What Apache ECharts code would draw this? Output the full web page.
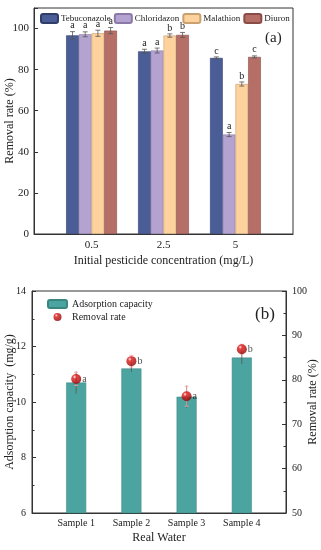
<!DOCTYPE html>
<html><head><meta charset="utf-8">
<script src="https://cdn.jsdelivr.net/npm/echarts@6/dist/echarts.min.js"></script>
<style>html,body{margin:0;padding:0;background:#fff;} #c{width:321px;height:550px;}</style>
</head><body><div id="c"></div>
<script>
// ---------- Panel (a) data ----------
const concentrations = ['0.5', '2.5', '5'];
const pesticides = ['Tebuconazole', 'Chloridazon', 'Malathion', 'Diuron'];
const tebuconazole = [96.7, 88.9, 85.7];
const chloridazon = [97.2, 89.3, 48.4];
const malathion = [97.7, 96.6, 73.0];
const diuron = [99.0, 96.9, 86.2];
const tebuconazoleErr = [1.8, 1.0, 0.5];
const chloridazonErr = [1.2, 1.2, 1.0];
const malathionErr = [1.5, 0.8, 1.0];
const diuronErr = [1.5, 1.2, 0.5];
const tebuconazoleLetters = ['a', 'a', 'c'];
const chloridazonLetters = ['a', 'a', 'a'];
const malathionLetters = ['a', 'b', 'b'];
const diuronLetters = ['a', 'b', 'c'];

// ---------- Panel (b) data ----------
const samples = ['Sample 1', 'Sample 2', 'Sample 3', 'Sample 4'];
const adsorption = [10.70, 11.21, 10.19, 11.60];
const adsorptionErr = [0.4, 0.13, 0.4, 0.23];
const removal = [80.2, 84.2, 76.3, 86.9];
const removalErr = [1.5, 1.3, 2.25, 1.1];
const removalLetters = ['a', 'b', 'a', 'b'];

// ---------- styling ----------
const SERIF = '"Liberation Serif", "DejaVu Serif", serif';
const AXIS = '#333';
const colorsA = ['#4a5d97', '#b4a2d0', '#fdd29c', '#b66f67'];
const bordersA = ['#2f3d68', '#8a79a6', '#c9a070', '#8a4c46'];
const TEAL = '#4ca4a0';
const barWA = 12.7;

const valuesA = [tebuconazole, chloridazon, malathion, diuron];
const errsA = [tebuconazoleErr, chloridazonErr, malathionErr, diuronErr];
const lettersA = [tebuconazoleLetters, chloridazonLetters, malathionLetters, diuronLetters];

function catLabel(list) {
  return function (v) {
    const i = Math.round(v);
    if (Math.abs(v - i) < 1e-6 && i >= 1 && i <= list.length) return list[i - 1];
    return '';
  };
}

function errRender(offset, letters, color, cap, lw) {
  return function (params, api) {
    const x = api.value(0), y = api.value(1), e = api.value(2);
    const hi = api.coord([x, y + e]);
    const lo = api.coord([x, y - e]);
    const cx = hi[0] + offset;
    const ch = [
      { type: 'line', shape: { x1: cx, y1: hi[1], x2: cx, y2: lo[1] }, style: { stroke: color, lineWidth: lw } },
      { type: 'line', shape: { x1: cx - cap, y1: hi[1], x2: cx + cap, y2: hi[1] }, style: { stroke: color, lineWidth: lw } },
      { type: 'line', shape: { x1: cx - cap, y1: lo[1], x2: cx + cap, y2: lo[1] }, style: { stroke: color, lineWidth: lw } }
    ];
    if (letters) {
      ch.push({ type: 'text', style: { text: letters[params.dataIndex], x: cx, y: hi[1] - 1,
        align: 'center', verticalAlign: 'bottom', textAlign: 'center', textVerticalAlign: 'bottom',
        font: '10px ' + SERIF, fill: '#222' } });
    }
    return { type: 'group', children: ch };
  };
}

const series = [];
pesticides.forEach(function (name, k) {
  series.push({
    name: name, type: 'bar', xAxisIndex: 0, yAxisIndex: 0,
    barWidth: barWA, barGap: '0%',
    itemStyle: { color: colorsA[k], borderColor: bordersA[k], borderWidth: 0.6 },
    data: valuesA[k].map(function (v, i) { return [i + 1, v]; })
  });
});
pesticides.forEach(function (name, k) {
  series.push({
    type: 'custom', xAxisIndex: 0, yAxisIndex: 0, z: 5,
    renderItem: errRender((k - 1.5) * barWA, lettersA[k], '#555', 2.5, 0.8),
    encode: { x: 0, y: 1 },
    data: valuesA[k].map(function (v, i) { return [i + 1, v, errsA[k][i]]; })
  });
});

// panel b
series.push({
  name: 'Adsorption capacity', type: 'bar', xAxisIndex: 1, yAxisIndex: 1,
  barWidth: 20, itemStyle: { color: TEAL, borderColor: '#3a8580', borderWidth: 0.5 },
  data: adsorption.map(function (v, i) { return [i + 1, v]; })
});
series.push({
  type: 'custom', xAxisIndex: 1, yAxisIndex: 1, z: 5,
  renderItem: errRender(0, null, '#555', 0, 0.8),
  encode: { x: 0, y: 1 },
  data: adsorption.map(function (v, i) { return [i + 1, v, adsorptionErr[i]]; })
});
series.push({
  type: 'custom', xAxisIndex: 1, yAxisIndex: 2, z: 6,
  renderItem: errRender(0, null, '#f2a3a3', 2, 0.8),
  encode: { x: 0, y: 1 },
  data: removal.map(function (v, i) { return [i + 1, v, removalErr[i]]; })
});
const dotGrad = new echarts.graphic.RadialGradient(0.35, 0.3, 0.75, [
  { offset: 0, color: '#ffe6e6' }, { offset: 0.25, color: '#e01818' }, { offset: 1, color: '#8a0000' }
]);
series.push({
  name: 'Removal rate', type: 'scatter', xAxisIndex: 1, yAxisIndex: 2, z: 8,
  symbol: 'circle', symbolSize: 10,
  itemStyle: { color: dotGrad },
  label: { show: true, position: 'right', distance: 1, fontFamily: SERIF, fontSize: 10, color: '#222',
    formatter: function (p) { return removalLetters[p.dataIndex]; } },
  data: removal.map(function (v, i) { return [i + 1, v]; })
});

const chart = echarts.init(document.getElementById('c'), null, { renderer: 'canvas' });
chart.setOption({
  animation: false,
  backgroundColor: '#fff',
  textStyle: { fontFamily: SERIF },
  title: [
    { text: '(a)', left: 265, top: 31, padding: 0, textStyle: { fontFamily: SERIF, fontSize: 15, fontWeight: 'normal', color: '#222' } },
    { text: '(b)', left: 255, top: 306, padding: 0, textStyle: { fontFamily: SERIF, fontSize: 17, fontWeight: 'normal', color: '#222' } }
  ],
  legend: [
    { data: pesticides, left: 40, top: 13, padding: 0, itemWidth: 17, itemHeight: 9, itemGap: 3,
      textStyle: { fontFamily: SERIF, fontSize: 9, color: '#222', padding: [0, 0, 0, -2] } },
    { data: ['Adsorption capacity', 'Removal rate'], orient: 'vertical', left: 47, top: 299, padding: 0,
      itemWidth: 19, itemHeight: 8, itemGap: 3,
      textStyle: { fontFamily: SERIF, fontSize: 10, color: '#222' } }
  ],
  grid: [
    { left: 34, right: 28, top: 8, bottom: 316, show: true, borderColor: AXIS, borderWidth: 1, outerBoundsMode: 'none', containLabel: false },
    { left: 32, right: 35, top: 291, bottom: 37, show: true, borderColor: AXIS, borderWidth: 1, outerBoundsMode: 'none', containLabel: false }
  ],
  xAxis: [
    { type: 'value', gridIndex: 0, min: 0.2, max: 3.8, interval: 0.2,
      axisLine: { show: true, lineStyle: { color: AXIS } }, axisTick: { show: false }, splitLine: { show: false },
      axisLabel: { formatter: catLabel(concentrations), color: '#222', fontFamily: SERIF, fontSize: 11, margin: 6 },
      name: 'Initial pesticide concentration (mg/L)', nameLocation: 'middle', nameGap: 21, nameMoveOverlap: false,
      nameTextStyle: { fontFamily: SERIF, fontSize: 12, color: '#222' } },
    { type: 'value', gridIndex: 1, min: 0.2, max: 4.8, interval: 0.2,
      axisLine: { show: true, lineStyle: { color: AXIS } }, axisTick: { show: false }, splitLine: { show: false },
      axisLabel: { formatter: catLabel(samples), color: '#222', fontFamily: SERIF, fontSize: 10, margin: 5 },
      name: 'Real Water', nameLocation: 'middle', nameGap: 19, nameMoveOverlap: false,
      nameTextStyle: { fontFamily: SERIF, fontSize: 12, color: '#222' } }
  ],
  yAxis: [
    { type: 'value', gridIndex: 0, min: 0, max: 110, interval: 20,
      axisLine: { show: true, lineStyle: { color: AXIS } },
      axisTick: { show: true, inside: true, length: 4, lineStyle: { color: AXIS } },
      splitLine: { show: false },
      axisLabel: { formatter: function (v) { return v > 100 ? '' : String(v); }, color: '#222', fontFamily: SERIF, fontSize: 11, margin: 5 },
      name: 'Removal rate (%)', nameLocation: 'middle', nameGap: 18, nameMoveOverlap: false,
      nameTextStyle: { fontFamily: SERIF, fontSize: 12, color: '#222' } },
    { type: 'value', gridIndex: 1, min: 6, max: 14, interval: 2,
      axisLine: { show: true, lineStyle: { color: AXIS } },
      axisTick: { show: true, inside: true, length: 4, lineStyle: { color: AXIS } },
      minorTick: { show: true, splitNumber: 2, length: 2.5, lineStyle: { color: AXIS } },
      splitLine: { show: false },
      axisLabel: { color: '#222', fontFamily: SERIF, fontSize: 10, margin: 6 },
      name: 'Adsorption capacity  (mg/g)', nameLocation: 'middle', nameGap: 16, nameMoveOverlap: false,
      nameTextStyle: { fontFamily: SERIF, fontSize: 12, color: '#222' } },
    { type: 'value', gridIndex: 1, position: 'right', min: 50, max: 100, interval: 10,
      axisLine: { show: true, lineStyle: { color: AXIS } },
      axisTick: { show: true, inside: true, length: 4, lineStyle: { color: AXIS } },
      minorTick: { show: true, splitNumber: 2, length: 2.5, lineStyle: { color: AXIS } },
      splitLine: { show: false },
      axisLabel: { color: '#222', fontFamily: SERIF, fontSize: 10, margin: 6 },
      name: 'Removal rate (%)', nameLocation: 'middle', nameGap: 21, nameRotate: 90, nameMoveOverlap: false,
      nameTextStyle: { fontFamily: SERIF, fontSize: 12, color: '#222' } }
  ],
  series: series
});
</script></body></html>
